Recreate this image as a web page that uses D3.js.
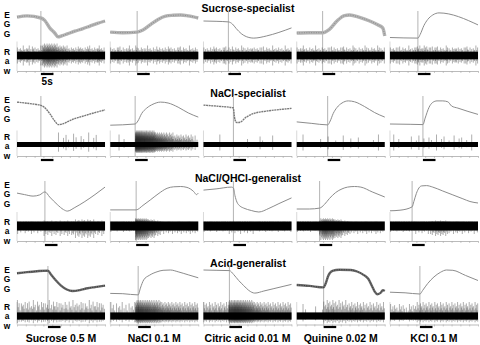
<!DOCTYPE html>
<html>
<head>
<meta charset="utf-8">
<script src="https://cdn.jsdelivr.net/npm/d3@7"></script>
<style>
  body { margin: 0; background: #fff; }
</style>
</head>
<body>
<div id="chart"></div>
<script>
// Neuron types (rows) and taste stimuli (columns)
const neuronTypes = ["Sucrose-specialist", "NaCl-specialist", "NaCl/QHCl-generalist", "Acid-generalist"];
const stimuli = ["Sucrose 0.5 M", "NaCl 0.1 M", "Citric acid 0.01 M", "Quinine 0.02 M", "KCl 0.1 M"];

// Sweep length and stimulus timing (s)
const sweepLength = 35;
const stimDuration = 5;
const timeTicks = d3.range(0, 35.1, 3.5);
const onsets = [
    [9.5, 10.7, 9.9, 10.3, 11.1],
    [9.5, 9.9, 11.9, 12.3, 13.1],
    [11.1, 10.3, 11.9, 9.1, 8.8],
    [12.3, 11.1, 10.3, 10.7, 11.9]
];

// EGG traces, [time s, amplitude a.u. 0-100]
const eggSucroseSpec = [
    [[0,83],[4,87],[9.5,80],[11,72],[13,47],[15,30],[16.3,17],[18,21],[20,27],[23,36],[26,44],[29,53],[32,62],[35,70]],
    [[0,33],[5,31],[10.7,33],[13,40],[16,58],[19,75],[22,86],[25,89],[28,90],[31,87],[35,80]],
    [[0,70],[5,69],[9.9,67],[11.5,60],[13,45],[15,28],[17,18],[20,13],[25,20],[30,32],[35,47]],
    [[0,30],[5,31],[10.3,31],[13,42],[16,70],[19,88],[21,90],[25,82],[29,70],[32,58],[34.2,47],[35,20]],
    [[0,15],[11.1,13],[12,25],[13.5,55],[15,75],[17,90],[19.5,97],[35,57]]
];
const eggNaClSpec = [
    [[0,83],[5,78],[9.5,72],[10.5,68],[13,45],[15,20],[16.5,8],[18,10],[22,25],[27,38],[31,48],[35,57]],
    [[0,6],[9.9,10],[11,20],[12.5,45],[14.5,63],[17,76],[20,83],[23,80],[27,66],[31,47],[35,33]],
    [[0,73],[6,69],[11.8,64],[12.5,25],[13.2,15],[14.5,16],[17,33],[20,45],[25,53],[30,58],[35,62]],
    [[0,17],[6,12],[12.3,7],[13.3,20],[14.5,45],[16,65],[18,80],[20.5,87],[23,84],[27,68],[31,48],[35,33]],
    [[0,10],[8,9],[13.1,8],[14,30],[15.5,65],[17,82],[18.7,87],[21,87],[23,84],[24.5,70],[27,63],[31,52],[35,42]]
];
const eggNaClQHClGen = [
    [[0,63],[3,58],[6.4,53],[9,57],[11.1,67],[13,50],[16,25],[18.5,8],[20,3],[23,15],[27,35],[31,58],[35,83]],
    [[0,7],[10.3,7],[13,22],[15.9,40],[19,60],[22.6,79],[25.2,84],[28,85],[30.5,82],[33.2,68],[34.3,58],[35,63]],
    [[0,73],[5,77],[11.1,83],[11.9,80],[12.5,55],[13.3,33],[14.5,20],[16,13],[19,5],[22,0],[26,12],[30,28],[35,47]],
    [[0,10],[5,10],[9.1,13],[11,25],[13,45],[15.5,65],[18,77],[20.2,83],[23,85],[25.5,83],[30,67],[35,50]],
    [[0,4],[4,6],[8.8,17],[9.5,35],[10.5,62],[11.5,80],[12.6,87],[14.5,88],[17,83],[21,70],[25,57],[29,44],[31.8,35],[35,30]]
];
const eggAcidGen = [
    [[0,79],[4,83],[8,86],[12.3,88],[13.5,75],[15.5,55],[17.5,38],[19.8,25],[22,20],[25,23],[28,29],[31,33],[35,38]],
    [[0,12],[5,11],[11.1,7],[12,30],[13.3,57],[15.5,72],[18.6,84],[21,89],[23.9,90],[27,84],[31,74],[35,64]],
    [[0,90],[5,89],[10.3,88],[12,75],[14,55],[16,38],[18,22],[20.4,13],[24,20],[28,28],[32,36],[35,42]],
    [[0,40],[5,37],[10.7,32],[11.5,45],[12.5,70],[14.2,87],[17,91],[21.5,90],[24,85],[26.7,73],[28.5,60],[30,35],[31,18],[32.1,9],[33.5,15],[34.2,23],[35,20]],
    [[0,16],[6,14],[11.9,10],[13,22],[15,45],[17.5,67],[20,82],[22.5,90],[25,89],[30,72],[35,55]]
];
const eggTraces = [eggSucroseSpec, eggNaClSpec, eggNaClQHClGen, eggAcidGen];

// Raw recordings: spikes per 1-s bin (base 36) and spike size per bin (x2 a.u.)
const spikeCounts = [
    ["34334343437898877665545445445444544", "33343334334343343334343433343433343", "33334333433334333433343334333433343",
     "33433343334333433343334333433343333", "34333433344454443443434334334343343"],
    ["00000000000000001011101101101011000", "0001010000kjhgfedcba987665554444321", "00000010000000000100001100010000000",
     "00100000010010010010010010000010100", "01010000101101011010110101011010100"],
    ["21121221212323232323323243434332323", "2121221212dcba987654322322232223222", "21221212212212212122122121221212212",
     "21212112169a988776544323222322232221", "21221212122122123344443322322212212"],
    ["32323232323232332323232323232323232", "2212212122bccbba9987766655554444444", "4343434343cdeedcba98776555444444444",
     "00110001002343433333343434333333333", "23223212323343434343434343434343434"]
];
const spikeSizes = [
    ["44545454456666665555444454445444544", "44454445445444544454444544454445444", "44445444544544454445444544454444544",
     "44544445444445444454445444454444544", "44454445445545545454445444544454445"],
    ["66666666666666666666666666666666666", "00050500007777777766666665555555554", "55555555555555555555555555555555555",
     "55555555555555555555555555555555555", "55555555555555555555555555555555555"],
    ["44444444445555555555556666666665555", "33333333337777766655444444444444444", "33333333334444444444333333333333333",
     "33333333377777766655544444444444444", "33333333334444445555555444444444444"],
    ["87878787878787878787878787878787878", "77777777778888888888777777777777777", "77777777778888888888777777777777777",
     "66666666668888888888777777777777777", "66666666667777777777777777777777777"]
];
// Baseline noise (a.u.) and spike polarity per neuron type
const rawNoise = [3.8, 2.5, 4.5, 3.6];
const spikeUp = [1, 1, 0.55, 1];
const spikeDown = [1, 0.6, 1, 0.45];
const sizeCycle = [1, 0.55, 0.8, 0.4, 0.9, 0.6, 0.7, 0.45];

// EGG line look: c clean, n noisy, d noisy dark, j jagged
const eggLook = [
    ["n", "n", "c", "n", "c"],
    ["j", "c", "j", "c", "c"],
    ["c", "c", "c", "c", "c"],
    ["d", "c", "c", "d", "c"]
];

// Layout
const W = 480, H = 345;
const rawCenter = [55.5, 59.5, 56, 61];
const axisOff = [71, 71, 71, 69.5];
const barOff = [74, 75, 75, 72];

const svg = d3.select("#chart")
    .append("svg")
    .attr("width", W)
    .attr("height", H)
    .style("font-family", "'Liberation Sans', Arial, sans-serif");

const col = d3.scaleBand().domain(stimuli).range([17, 478]).paddingInner(0.056);
const row = d3.scaleBand().domain(neuronTypes).range([0, 340]);

neuronTypes.forEach((type, r) => {
    const top = row(type);
    const yEgg = d3.scaleLinear().domain([0, 100]).range([top + 42, top + 12]);
    const yRaw = d3.scaleLinear().domain([-20, 20]).range([top + rawCenter[r] + 20, top + rawCenter[r] - 20]);
    const axisY = top + axisOff[r];

    // Row title
    svg.append("text")
        .attr("x", 248)
        .attr("y", top + 11.5)
        .attr("text-anchor", "middle")
        .style("font-size", "10.5px")
        .style("font-weight", "bold")
        .text(type);

    // EGG / Raw side labels
    const side = [["E", 14.5], ["G", 24], ["G", 33.5], ["R", 51.5], ["a", 61], ["w", 70.5]];
    side.forEach(([ch, yy]) => {
        svg.append("text")
            .attr("x", 7)
            .attr("y", top + yy + 3.2)
            .attr("text-anchor", "middle")
            .style("font-size", "8.4px")
            .style("font-weight", "bold")
            .text(ch);
    });

    stimuli.forEach((stim, c) => {
        const x = d3.scaleLinear()
            .domain([0, sweepLength])
            .range([col(stim), col(stim) + col.bandwidth()]);
        const g = svg.append("g");
        const onset = onsets[r][c];

        // Stimulus onset marker
        g.append("line")
            .attr("x1", x(onset)).attr("x2", x(onset))
            .attr("y1", top + 11).attr("y2", axisY)
            .attr("stroke", "#b4b4b4")
            .attr("stroke-width", 1);

        // Left edge of raw trace
        g.append("line")
            .attr("x1", x(0)).attr("x2", x(0))
            .attr("y1", yRaw(14)).attr("y2", axisY)
            .attr("stroke", "#cfcfcf")
            .attr("stroke-width", 0.8);

        // Spikes
        const counts = spikeCounts[r][c];
        const sizes = spikeSizes[r][c];
        const spikes = [];
        let k = 0;
        for (let s = 0; s < sweepLength; s++) {
            const n = parseInt(counts[s], 36) || 0;
            const a = +sizes[s] * 2;
            for (let i = 0; i < n; i++) {
                spikes.push({t: s + (i + 0.5) / n, a: a * sizeCycle[k % sizeCycle.length]});
                k++;
            }
        }
        g.selectAll(".spike")
            .data(spikes)
            .join("line")
            .attr("x1", d => x(d.t)).attr("x2", d => x(d.t))
            .attr("y1", d => yRaw(Math.max(rawNoise[r], d.a * spikeUp[r])))
            .attr("y2", d => yRaw(-Math.max(rawNoise[r], d.a * spikeDown[r])))
            .attr("stroke", "#222")
            .attr("stroke-opacity", 0.62)
            .attr("stroke-width", 0.6);

        // Baseline noise band
        g.append("rect")
            .attr("x", x(0))
            .attr("y", yRaw(rawNoise[r]))
            .attr("width", x(sweepLength) - x(0))
            .attr("height", yRaw(-rawNoise[r]) - yRaw(rawNoise[r]))
            .attr("fill", "#000");

        // EGG trace
        const line = d3.line()
            .x(d => x(d[0]))
            .y(d => yEgg(d[1]))
            .curve(d3.curveMonotoneX);
        const look = eggLook[r][c];
        const data = eggTraces[r][c];
        if (look === "n" || look === "d") {
            g.append("path").datum(data)
                .attr("fill", "none")
                .attr("stroke", look === "n" ? "#b4b4b4" : "#6a6a6a")
                .attr("stroke-width", look === "n" ? 3.4 : 2.4)
                .attr("d", line);
            g.append("path").datum(data)
                .attr("fill", "none")
                .attr("stroke", look === "n" ? "#808080" : "#2a2a2a")
                .attr("stroke-width", 0.8)
                .attr("stroke-dasharray", "1,1.4")
                .attr("d", line);
        } else {
            g.append("path").datum(data)
                .attr("fill", "none")
                .attr("stroke", look === "j" ? "#7a7a7a" : "#8c8c8c")
                .attr("stroke-width", look === "j" ? 1.4 : 1)
                .attr("stroke-dasharray", look === "j" ? "2,0.6" : null)
                .attr("d", line);
        }

        // Time axis
        const ax = g.append("g")
            .attr("transform", `translate(0,${axisY})`)
            .call(d3.axisBottom(x).tickValues(timeTicks).tickSize(2).tickSizeOuter(0).tickFormat(""));
        ax.select(".domain").attr("stroke", "#aaa").attr("stroke-width", 0.8);
        ax.selectAll(".tick line").attr("stroke", "#aaa").attr("stroke-width", 0.6);

        // Stimulus bar
        g.append("rect")
            .attr("x", x(onset))
            .attr("y", top + barOff[r] - 1.1)
            .attr("width", x(onset + stimDuration) - x(onset))
            .attr("height", 2.2)
            .attr("fill", "#000");

        if (r === 0 && c === 0) {
            g.append("text")
                .attr("x", x(onset + stimDuration / 2))
                .attr("y", top + 85)
                .attr("text-anchor", "middle")
                .style("font-size", "10px")
                .style("font-weight", "bold")
                .text("5s");
        }
    });
});

// Stimulus labels
svg.selectAll(".stim-label")
    .data(stimuli)
    .join("text")
    .attr("x", d => col(d) + col.bandwidth() / 2)
    .attr("y", 341.5)
    .attr("text-anchor", "middle")
    .style("font-size", "10.5px")
    .style("font-weight", "bold")
    .text(d => d);
</script>
</body>
</html>
